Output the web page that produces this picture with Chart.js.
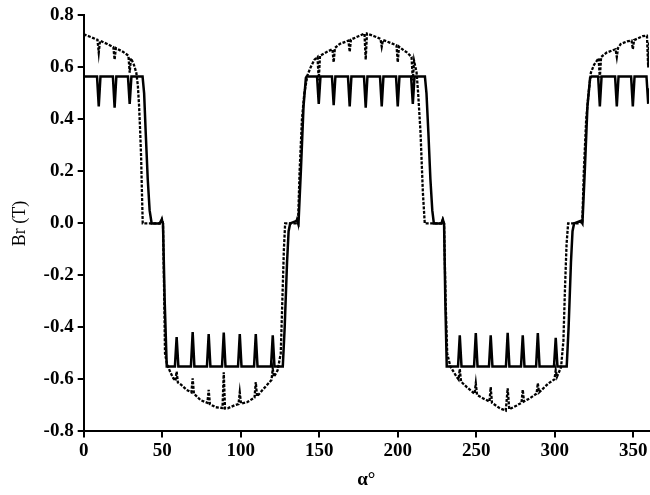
<!DOCTYPE html>
<html>
<head>
<meta charset="utf-8">
<script src="https://cdn.jsdelivr.net/npm/chart.js@4"></script>
<style>
  html, body { margin: 0; padding: 0; background: #fff; }
  #wrap { width: 650px; height: 495px; }
</style>
</head>
<body>
<div id="wrap"><canvas id="brChart" width="650" height="495"></canvas></div>
<script>
// solid curve (angle in degrees, Br in T)
const solidAngle = [0, 8.5, 9.6, 10.7, 18.6, 19.7, 20.8, 28.2, 29.3, 30.4, 37.5, 38.5, 39.5, 40.8, 42, 43.3, 48.4, 49.7, 50.5, 51.6, 52.9,
  58.1, 59.2, 60.3, 68.3, 69.4, 70.5, 78.5, 79.6, 80.7, 88.1, 89.2, 90.3, 98.3, 99.4, 100.5, 108.5, 109.6, 110.7, 119.3, 120.4, 121.5,
  126.8, 128, 129.5, 130.5, 131.5, 135.8, 136.8, 138.3, 140, 141.5, 142,
  148.6, 149.7, 150.8, 158.1, 159.2, 160.3, 168.3, 169.4, 170.5, 178.5, 179.6, 180.7, 188.7, 189.8, 190.9, 198.9, 200, 201.1, 208.5, 209.6, 210.7,
  217.3, 218.3, 219.5, 220.8, 222, 223, 227.8, 228.7, 229.5, 230.3, 231.2,
  238.4, 239.5, 240.6, 248.6, 249.7, 250.8, 258.1, 259.2, 260.3, 268.9, 270, 271.1, 278.5, 279.6, 280.7, 288.1, 289.2, 290.3, 299.5, 300.6, 301.7,
  307.6, 308.8, 310.3, 311.3, 312.3, 316.6, 317.6, 319.1, 320.8, 322.5, 323.6,
  327.6, 328.7, 329.8, 338.4, 339.5, 340.6, 348.6, 349.7, 350.8, 358.4, 359.5, 360];
const solidBr = [0.565, 0.565, 0.45, 0.565, 0.565, 0.445, 0.565, 0.565, 0.46, 0.565, 0.565, 0.5, 0.35, 0.17, 0.05, 0, 0, 0.015, 0, -0.3, -0.55,
  -0.55, -0.437, -0.55, -0.55, -0.418, -0.55, -0.55, -0.426, -0.55, -0.55, -0.42, -0.55, -0.55, -0.426, -0.55, -0.55, -0.426, -0.55, -0.55, -0.43, -0.55,
  -0.55, -0.4, -0.15, -0.03, 0, 0.01, 0, 0.2, 0.45, 0.56, 0.565,
  0.565, 0.46, 0.565, 0.565, 0.455, 0.565, 0.565, 0.45, 0.565, 0.565, 0.445, 0.565, 0.565, 0.45, 0.565, 0.565, 0.45, 0.565, 0.565, 0.46, 0.565,
  0.565, 0.5, 0.35, 0.17, 0.05, 0, 0, 0.015, 0, -0.3, -0.55,
  -0.55, -0.43, -0.55, -0.55, -0.422, -0.55, -0.55, -0.43, -0.55, -0.55, -0.421, -0.55, -0.55, -0.43, -0.55, -0.55, -0.422, -0.55, -0.55, -0.44, -0.55,
  -0.55, -0.4, -0.15, -0.03, 0, 0.01, 0, 0.2, 0.45, 0.56, 0.565,
  0.565, 0.45, 0.565, 0.565, 0.45, 0.565, 0.565, 0.45, 0.565, 0.565, 0.46, 0.52];

// dotted curve
const dottedAngle = [0, 4, 8.8, 9.6, 10.4, 15, 18.9, 19.7, 20.5, 25, 28.5, 29.3, 30.1, 32, 33.5, 34.5, 35.3, 36, 36.6, 37.1, 37.6,
  49.2, 49.9, 50.5, 51.2, 51.8, 53, 55, 57, 58.4, 59.2, 60, 62, 65.5, 68.6, 69.4, 70.2, 74.5, 78.8, 79.6, 80.4, 84, 88.4, 89.2, 90,
  91.7, 96, 98.6, 99.4, 100.2, 104, 108.8, 109.6, 110.4, 114, 119.6, 120.4, 121.2, 123.5, 125.5, 126.5, 127.5, 128.3,
  135, 135.8, 136.5, 137.5, 139, 140.5, 142.5, 144.5, 147, 148.9, 149.7, 150.5, 155, 158.4, 159.2, 160, 163, 168.6, 169.4, 170.2,
  175, 178.8, 179.6, 180.4, 185, 189, 189.8, 190.6, 193, 199.2, 200, 200.8, 204, 206, 208.8, 209.6, 210.4, 212, 213, 214.5, 216, 217.2,
  227.9, 228.7, 229.5, 230.5, 231.5, 233.5, 235, 237.5, 238.7, 239.5, 240.3, 241.4, 244, 248.9, 249.7, 250.5, 255, 258.4, 259.2, 260,
  265, 268.8, 270, 271, 275.8, 278.8, 279.6, 280.4, 284, 288.4, 289.2, 290, 296, 299.8, 300.6, 301.4, 304, 305.5, 306.5, 307.5, 308.5,
  316, 316.8, 317.5, 318.5, 320, 321.5, 323, 325, 327.9, 328.7, 329.5, 333, 338.7, 339.5, 340.3, 342, 346, 348.9, 349.7, 350.5,
  356, 358.7, 359.5, 360];
const dottedBr = [0.727, 0.718, 0.706, 0.657, 0.703, 0.69, 0.678, 0.63, 0.674, 0.66, 0.645, 0.58, 0.635, 0.61, 0.58, 0.53, 0.45, 0.35, 0.25, 0.12, 0,
  0, 0.015, 0, -0.25, -0.5, -0.54, -0.57, -0.595, -0.605, -0.57, -0.612, -0.62, -0.64, -0.65, -0.596, -0.655, -0.68, -0.69, -0.64, -0.695, -0.707, -0.71, -0.573, -0.712,
  -0.711, -0.7, -0.695, -0.65, -0.693, -0.688, -0.67, -0.61, -0.665, -0.64, -0.602, -0.56, -0.59, -0.565, -0.5, -0.3, -0.1, 0,
  0, 0.015, 0, 0.2, 0.4, 0.5, 0.57, 0.6, 0.63, 0.64, 0.55, 0.645, 0.66, 0.67, 0.62, 0.675, 0.69, 0.703, 0.66, 0.707,
  0.72, 0.73, 0.63, 0.73, 0.72, 0.71, 0.68, 0.705, 0.7, 0.685, 0.62, 0.68, 0.665, 0.657, 0.64, 0.55, 0.625, 0.58, 0.5, 0.35, 0.12, 0,
  0, 0.015, 0, -0.3, -0.5, -0.55, -0.565, -0.59, -0.6, -0.56, -0.608, -0.615, -0.63, -0.655, -0.615, -0.66, -0.675, -0.685, -0.63, -0.69,
  -0.711, -0.72, -0.634, -0.715, -0.7, -0.69, -0.64, -0.685, -0.673, -0.655, -0.615, -0.65, -0.615, -0.6, -0.565, -0.59, -0.553, -0.45, -0.25, -0.08, 0,
  0, 0.015, 0, 0.2, 0.4, 0.5, 0.58, 0.61, 0.635, 0.56, 0.64, 0.657, 0.67, 0.64, 0.675, 0.69, 0.7, 0.703, 0.67, 0.705,
  0.72, 0.722, 0.6, 0.7];

const xTickValues = [0, 50, 100, 150, 200, 250, 300, 350];
const yTickValues = [-0.8, -0.6, -0.4, -0.2, 0, 0.2, 0.4, 0.6, 0.8];

const toPoints = (xs, ys) => xs.map((x, i) => ({ x: x, y: ys[i] }));

const tickFont = { family: '"Liberation Serif", "Times New Roman", serif', size: 19, weight: 'bold' };

new Chart(document.getElementById('brChart').getContext('2d'), {
  type: 'line',
  data: {
    datasets: [
      {
        label: 'dotted',
        data: toPoints(dottedAngle, dottedBr),
        borderColor: '#000',
        borderWidth: 2.3,
        borderDash: [3, 1.5],
        pointRadius: 0,
        tension: 0,
        fill: false
      },
      {
        label: 'solid',
        data: toPoints(solidAngle, solidBr),
        borderColor: '#000',
        borderWidth: 2.5,
        pointRadius: 0,
        tension: 0,
        fill: false
      }
    ]
  },
  options: {
    responsive: false,
    animation: false,
    layout: { padding: { top: 10, right: 1, left: 9, bottom: 4 } },
    plugins: { legend: { display: false }, tooltip: { enabled: false } },
    scales: {
      x: {
        type: 'linear',
        min: 0,
        max: 360,
        afterBuildTicks: axis => { axis.ticks = xTickValues.map(v => ({ value: v })); },
        ticks: { color: '#000', font: tickFont, padding: 2, maxRotation: 0, autoSkip: false },
        grid: { display: true, drawOnChartArea: false, drawTicks: true, tickLength: 6, color: '#000', lineWidth: 2 },
        border: { display: true, color: '#000', width: 2 },
        title: { display: true, text: 'α°', color: '#000', font: { family: '"Liberation Serif", serif', size: 19, weight: 'bold' }, padding: { top: 4, bottom: 0 } }
      },
      y: {
        min: -0.8,
        max: 0.8,
        afterBuildTicks: axis => { axis.ticks = yTickValues.map(v => ({ value: v })); },
        ticks: { color: '#000', font: tickFont, padding: 4, callback: v => v.toFixed(1) },
        grid: { display: true, drawOnChartArea: false, drawTicks: true, tickLength: 6, color: '#000', lineWidth: 2 },
        border: { display: true, color: '#000', width: 2 },
        title: { display: true, text: 'Br (T)', color: '#000', font: { family: '"Liberation Serif", serif', size: 18 }, padding: { top: 0, bottom: 9 } }
      }
    }
  }
});
</script>
</body>
</html>
